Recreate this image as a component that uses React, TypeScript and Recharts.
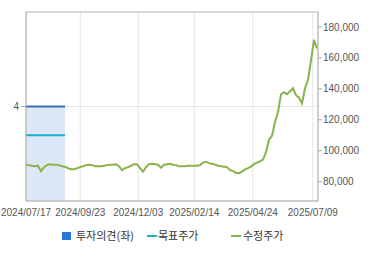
import React from "react";
import { Area, CartesianGrid, ComposedChart, Line, ReferenceLine, XAxis, YAxis } from "recharts";

// 수정주가, one sample per ~1.5 trading days
const prices = [
  91000, 90700, 90300, 90000, 90200, 86800, 89400, 90700, 91300, 91000,
  91000, 90700, 90000, 89700, 88700, 88100, 88100, 88700, 89400, 90000,
  90700, 91000, 90700, 90000, 90000, 90000, 90300, 90700, 91000, 91000,
  91300, 90000, 87400, 88700, 89400, 90300, 91300, 91300, 88700, 86500,
  89400, 91300, 91600, 91300, 91000, 89000, 91000, 91300, 91600, 91000,
  90700, 90000, 90000, 90000, 90300, 90300, 90300, 90300, 90700, 92300,
  92900, 92000, 91600, 91000, 90300, 90000, 89700, 89400, 87400, 86800,
  85800, 85500, 86500, 87900, 88700, 89700, 91300, 92300, 93200, 94300,
  99100, 107100, 109700, 118600, 124900, 136500, 137800, 136500, 138500, 140400,
  135900, 134300, 130700, 140400, 145900, 158500, 171700, 166200,
];

// 투자의견 (left axis) and 목표주가, only for the first part of the period
const opinion = [4, 4, 4, 4, 4, 4, 4, 4, 4, 4, 4, 4, 4, 4];
const target = [
  110000, 110000, 110000, 110000, 110000, 110000, 110000,
  110000, 110000, 110000, 110000, 110000, 110000, 110000,
];

const dateTicks = [0, 18.1, 37.4, 56.1, 75.6, 95.6];
const dateLabels = ["2024/07/17", "2024/09/23", "2024/12/03", "2025/02/14", "2025/04/24", "2025/07/09"];
const priceTicks = [80000, 100000, 120000, 140000, 160000, 180000];

const data = prices.map((p, i) => ({
  i,
  price: p,
  opinion: i < opinion.length ? opinion[i] : null,
  target: i < target.length ? target[i] : null,
}));

const axisColor = "#a8a8a8";
const tickStyle = { fontSize: 10, fill: "#555", fontFamily: "Liberation Sans, Arial, sans-serif" };

function LegendRow() {
  const text: React.CSSProperties = {
    position: "absolute",
    top: 227,
    fontSize: 11,
    color: "#333",
    fontFamily: "Noto Sans CJK KR, sans-serif",
    lineHeight: "16px",
  };
  return (
    <>
      <div style={{ position: "absolute", left: 62, top: 232, width: 9, height: 8, background: "#2a78d6" }} />
      <span style={{ ...text, left: 76 }}>투자의견(좌)</span>
      <div style={{ position: "absolute", left: 147, top: 235, width: 10, height: 2, background: "#1ab2c6" }} />
      <span style={{ ...text, left: 158 }}>목표주가</span>
      <div style={{ position: "absolute", left: 231, top: 235, width: 10, height: 2, background: "#8ab34a" }} />
      <span style={{ ...text, left: 243 }}>수정주가</span>
    </>
  );
}

export default function App() {
  return (
    <div style={{ position: "absolute", left: 0, top: 0, width: 370, height: 255, background: "#fff" }}>
      <ComposedChart width={370} height={255} data={data} margin={{ top: 12, right: 0, bottom: 0, left: 0 }}>
        <CartesianGrid yAxisId="left" stroke="#e6e6e6" />
        <XAxis
          dataKey="i"
          type="number"
          domain={[0, 97.33]}
          ticks={dateTicks}
          interval={0}
          tickFormatter={(v) => dateLabels[dateTicks.indexOf(v)] ?? ""}
          height={54}
          tickLine={false}
          tickSize={8}
          tickMargin={0}
          stroke={axisColor}
          tick={tickStyle}
        />
        <YAxis
          yAxisId="left"
          domain={[0, 8]}
          ticks={[4]}
          width={26}
          tickSize={5}
          tickMargin={2}
          stroke={axisColor}
          tick={tickStyle}
        />
        <YAxis
          yAxisId="right"
          orientation="right"
          domain={[67500, 189700]}
          ticks={priceTicks}
          allowDataOverflow
          width={52}
          tickSize={4}
          tickMargin={1}
          stroke={axisColor}
          tick={tickStyle}
          tickFormatter={(v) => v.toLocaleString("en-US")}
        />
        <ReferenceLine yAxisId="left" y={8} stroke="#bdbdbd" />
        <Area
          yAxisId="left"
          dataKey="opinion"
          type="linear"
          stroke="#3a6fb8"
          strokeWidth={2}
          fill="#dce8f8"
          fillOpacity={1}
          isAnimationActive={false}
        />
        <Line
          yAxisId="right"
          dataKey="target"
          type="linear"
          stroke="#1ab2c6"
          strokeWidth={2}
          dot={false}
          isAnimationActive={false}
        />
        <Line
          yAxisId="right"
          dataKey="price"
          type="linear"
          stroke="#8ab34a"
          strokeWidth={2}
          dot={false}
          isAnimationActive={false}
        />
      </ComposedChart>
      <LegendRow />
    </div>
  );
}
